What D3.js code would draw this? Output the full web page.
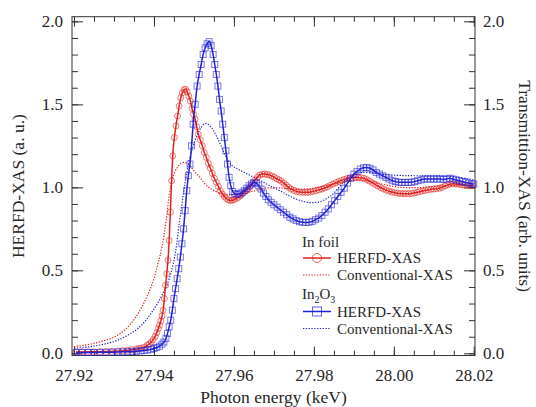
<!DOCTYPE html>
<html><head><meta charset="utf-8">
<script src="https://cdn.jsdelivr.net/npm/d3@7"></script>
<style>
body{margin:0;background:#fff}
svg{display:block}
svg text{font-family:"Liberation Serif","Times New Roman",serif;fill:#262626}
</style>
</head><body>
<svg id="chart" width="536" height="407"></svg>
<script>
// ---------------- DATA (photon energy keV, normalized intensity) ----------------
const foilHerfd = [[27.9205,0.008],[27.9220,0.008],[27.9235,0.009],[27.9250,0.009],[27.9265,0.010],[27.9280,0.011],[27.9295,0.012],[27.9310,0.014],[27.9322,0.016],[27.9334,0.019],[27.9345,0.022],[27.9356,0.026],[27.9362,0.028],[27.9368,0.031],[27.9376,0.038],[27.9383,0.048],[27.9388,0.056],[27.9393,0.068],[27.9398,0.083],[27.9403,0.102],[27.9407,0.124],[27.9411,0.149],[27.9414,0.170],[27.9417,0.195],[27.9420,0.225],[27.9423,0.26],[27.9426,0.33],[27.9429,0.41],[27.9432,0.48],[27.9435,0.56],[27.9438,0.68],[27.9441,0.85],[27.9444,1.04],[27.9447,1.19],[27.9451,1.30],[27.9455,1.37],[27.9459,1.43],[27.9463,1.49],[27.9467,1.54],[27.9471,1.57],[27.9475,1.588],[27.9479,1.592],[27.9483,1.575],[27.9487,1.55],[27.9491,1.52],[27.9495,1.475],[27.9499,1.44],[27.9503,1.41],[27.9507,1.365],[27.9511,1.32],[27.9516,1.285],[27.9521,1.25],[27.9526,1.21],[27.9531,1.18],[27.9536,1.145],[27.9541,1.115],[27.9546,1.085],[27.9551,1.055],[27.9556,1.03],[27.9561,1.005],[27.9566,0.98],[27.9571,0.96],[27.9576,0.945],[27.9581,0.933],[27.9586,0.925],[27.9591,0.92],[27.9596,0.922],[27.9601,0.927],[27.9606,0.933],[27.9611,0.94],[27.9617,0.95],[27.9623,0.963],[27.9629,0.978],[27.9635,0.99],[27.9641,1.005],[27.9647,1.025],[27.9653,1.045],[27.9659,1.062],[27.9665,1.075],[27.9671,1.08],[27.9677,1.08],[27.9683,1.078],[27.9689,1.075],[27.9695,1.068],[27.9701,1.06],[27.9707,1.052],[27.9713,1.045],[27.9719,1.036],[27.9725,1.025],[27.9731,1.012],[27.9737,1.0],[27.9743,0.99],[27.9750,0.982],[27.9757,0.975],[27.9764,0.972],[27.9771,0.97],[27.9778,0.97],[27.9785,0.97],[27.9792,0.972],[27.9799,0.976],[27.9806,0.98],[27.9813,0.985],[27.9820,0.99],[27.9827,0.996],[27.9834,1.003],[27.9841,1.012],[27.9848,1.02],[27.9855,1.028],[27.9862,1.035],[27.9869,1.042],[27.9876,1.048],[27.9883,1.053],[27.9890,1.056],[27.9897,1.058],[27.9904,1.06],[27.9911,1.06],[27.9918,1.058],[27.9925,1.054],[27.9932,1.047],[27.9939,1.038],[27.9946,1.028],[27.9953,1.018],[27.9960,1.008],[27.9967,0.998],[27.9974,0.99],[27.9981,0.983],[27.9988,0.977],[27.9995,0.972],[28.0002,0.968],[28.0009,0.965],[28.0016,0.963],[28.0023,0.962],[28.0030,0.962],[28.0037,0.962],[28.0044,0.963],[28.0051,0.966],[28.0058,0.97],[28.0065,0.974],[28.0072,0.978],[28.0079,0.982],[28.0086,0.985],[28.0093,0.988],[28.0100,0.99],[28.0107,0.992],[28.0114,0.995],[28.0121,1.0],[28.0128,1.008],[28.0135,1.015],[28.0142,1.02],[28.0149,1.022],[28.0156,1.02],[28.0163,1.018],[28.0170,1.015],[28.0177,1.013],[28.0184,1.012],[28.0191,1.01],[28.0198,1.01]];

const foilConv = [[27.9200,0.040],[27.9240,0.055],[27.9280,0.080],[27.9310,0.110],[27.9335,0.160],[27.9355,0.220],[27.9370,0.280],[27.9380,0.330],[27.9390,0.385],[27.9400,0.450],[27.9410,0.540],[27.9420,0.640],[27.9430,0.790],[27.9438,0.950],[27.9445,1.040],[27.9452,1.090],[27.9460,1.125],[27.9468,1.145],[27.9476,1.150],[27.9485,1.140],[27.9495,1.115],[27.9505,1.085],[27.9515,1.060],[27.9528,1.020],[27.9540,0.995],[27.9555,0.975],[27.9570,0.962],[27.9590,0.955],[27.9610,0.957],[27.9630,0.965],[27.9650,0.978],[27.9670,0.990],[27.9690,0.997],[27.9710,0.997],[27.9735,0.992],[27.9760,0.988],[27.9790,0.992],[27.9820,1.005],[27.9850,1.020],[27.9880,1.035],[27.9910,1.042],[27.9940,1.036],[27.9970,1.020],[28.0000,1.005],[28.0030,0.998],[28.0060,0.998],[28.0090,1.003],[28.0120,1.008],[28.0150,1.010],[28.0180,1.010],[28.0200,1.010]];

const oxideHerfd = [[27.9205,0.005],[27.9220,0.005],[27.9235,0.005],[27.9250,0.005],[27.9265,0.006],[27.9280,0.006],[27.9295,0.007],[27.9310,0.008],[27.9322,0.009],[27.9334,0.010],[27.9346,0.011],[27.9356,0.013],[27.9366,0.015],[27.9375,0.017],[27.9384,0.020],[27.9392,0.024],[27.9400,0.029],[27.9407,0.035],[27.9414,0.043],[27.9420,0.055],[27.9425,0.068],[27.9430,0.09],[27.9434,0.12],[27.9438,0.16],[27.9442,0.20],[27.9446,0.26],[27.9450,0.33],[27.9454,0.39],[27.9458,0.45],[27.9462,0.51],[27.9466,0.58],[27.9470,0.66],[27.9474,0.75],[27.9478,0.86],[27.9482,0.98],[27.9486,1.07],[27.9490,1.14],[27.9494,1.25],[27.9498,1.38],[27.9503,1.50],[27.9508,1.61],[27.9513,1.68],[27.9518,1.74],[27.9523,1.80],[27.9528,1.84],[27.9533,1.865],[27.9538,1.878],[27.9543,1.855],[27.9548,1.80],[27.9552,1.74],[27.9556,1.68],[27.9560,1.61],[27.9564,1.53],[27.9568,1.46],[27.9572,1.38],[27.9576,1.30],[27.9580,1.22],[27.9584,1.14],[27.9588,1.06],[27.9592,1.01],[27.9597,0.975],[27.9602,0.962],[27.9608,0.958],[27.9614,0.96],[27.9620,0.97],[27.9626,0.98],[27.9632,0.995],[27.9638,1.01],[27.9644,1.02],[27.9650,1.03],[27.9656,1.025],[27.9662,1.01],[27.9668,0.99],[27.9674,0.965],[27.9680,0.945],[27.9686,0.925],[27.9693,0.91],[27.9700,0.895],[27.9708,0.88],[27.9716,0.865],[27.9724,0.85],[27.9732,0.835],[27.9740,0.82],[27.9748,0.81],[27.9756,0.80],[27.9764,0.793],[27.9772,0.79],[27.9780,0.788],[27.9788,0.79],[27.9796,0.795],[27.9804,0.805],[27.9812,0.815],[27.9820,0.83],[27.9828,0.85],[27.9836,0.87],[27.9844,0.895],[27.9852,0.92],[27.9860,0.945],[27.9868,0.97],[27.9876,0.995],[27.9884,1.025],[27.9892,1.055],[27.9900,1.08],[27.9908,1.095],[27.9916,1.11],[27.9924,1.118],[27.9932,1.12],[27.9940,1.115],[27.9948,1.105],[27.9956,1.09],[27.9964,1.08],[27.9972,1.07],[27.9980,1.06],[27.9988,1.05],[27.9996,1.04],[28.0004,1.035],[28.0012,1.03],[28.0020,1.03],[28.0028,1.03],[28.0036,1.03],[28.0044,1.03],[28.0052,1.035],[28.0060,1.04],[28.0068,1.045],[28.0076,1.05],[28.0084,1.05],[28.0092,1.05],[28.0100,1.05],[28.0108,1.05],[28.0116,1.05],[28.0124,1.048],[28.0132,1.05],[28.0140,1.055],[28.0148,1.05],[28.0156,1.045],[28.0164,1.04],[28.0172,1.035],[28.0180,1.03],[28.0188,1.025],[28.0196,1.02],[28.0200,1.02]];

const oxideConv = [[27.9200,0.030],[27.9240,0.040],[27.9280,0.058],[27.9310,0.080],[27.9335,0.110],[27.9360,0.150],[27.9380,0.200],[27.9395,0.250],[27.9410,0.305],[27.9422,0.360],[27.9434,0.420],[27.9442,0.480],[27.9450,0.560],[27.9457,0.660],[27.9463,0.780],[27.9470,0.900],[27.9478,1.030],[27.9487,1.150],[27.9497,1.240],[27.9508,1.315],[27.9518,1.360],[27.9528,1.385],[27.9538,1.375],[27.9548,1.345],[27.9558,1.300],[27.9568,1.250],[27.9577,1.200],[27.9586,1.160],[27.9596,1.130],[27.9610,1.110],[27.9630,1.085],[27.9650,1.060],[27.9670,1.035],[27.9690,1.010],[27.9710,0.985],[27.9730,0.960],[27.9750,0.935],[27.9770,0.918],[27.9790,0.908],[27.9810,0.910],[27.9830,0.930],[27.9850,0.965],[27.9870,1.020],[27.9890,1.065],[27.9910,1.085],[27.9930,1.090],[27.9950,1.085],[27.9980,1.078],[28.0010,1.072],[28.0050,1.070],[28.0090,1.070],[28.0130,1.068],[28.0160,1.060],[28.0200,1.045]];

const xMajorTicks = [27.92, 27.94, 27.96, 27.98, 28.00, 28.02];
const xMinorTicks = d3.range(0, 21).map(i => +(27.92 + i * 0.005).toFixed(3));
const yMajorTicks = [0.0, 0.5, 1.0, 1.5, 2.0];
const yMinorTicks = d3.range(0, 21).map(i => +(i * 0.1).toFixed(1));

const xTitle = "Photon energy (keV)";
const yLeftTitle = "HERFD-XAS (a. u.)";
const yRightTitle = "Transmittion-XAS (arb. units)";

// ---------------- LAYOUT ----------------
const L = 72, R = 475, T = 16.7, B = 355.5;
const RED = "#e2211c", BLUE = "#2121d6", AX = "#333";
const FONT = '"Liberation Serif","Times New Roman",serif';
const svg = d3.select("#chart");

const x = d3.scaleLinear().domain([27.9195, 28.0203]).range([L, R]);
const y = d3.scaleLinear().domain([-0.013, 2.028]).range([B, T]);

function styleAxis(g) {
  g.select(".domain").remove();
  g.selectAll("line").attr("stroke", AX).attr("stroke-width", 1);
  g.attr("font-family", FONT).attr("font-size", 17);
  g.selectAll("text").attr("font-family", FONT).attr("font-size", 17).attr("fill", "#262626");
}

// minor ticks
svg.append("g").attr("transform", `translate(0,${B})`)
  .call(d3.axisBottom(x).tickValues(xMinorTicks).tickSize(-5).tickFormat("")).call(styleAxis);
svg.append("g").attr("transform", `translate(0,${T})`)
  .call(d3.axisTop(x).tickValues(xMinorTicks).tickSize(-5).tickFormat("")).call(styleAxis);
svg.append("g").attr("transform", `translate(${L},0)`)
  .call(d3.axisLeft(y).tickValues(yMinorTicks).tickSize(-6).tickFormat("")).call(styleAxis);
svg.append("g").attr("transform", `translate(${R},0)`)
  .call(d3.axisRight(y).tickValues(yMinorTicks).tickSize(-6).tickFormat("")).call(styleAxis);

// major ticks with labels
svg.append("g").attr("transform", `translate(0,${B})`)
  .call(d3.axisBottom(x).tickValues(xMajorTicks).tickSize(-9).tickPadding(13).tickFormat(d3.format(".2f"))).call(styleAxis);
svg.append("g").attr("transform", `translate(0,${T})`)
  .call(d3.axisTop(x).tickValues(xMajorTicks).tickSize(-10).tickFormat("")).call(styleAxis);
svg.append("g").attr("transform", `translate(${L},0)`)
  .call(d3.axisLeft(y).tickValues(yMajorTicks).tickSize(-11).tickPadding(9).tickFormat(d3.format(".1f"))).call(styleAxis);
svg.append("g").attr("transform", `translate(${R},0)`)
  .call(d3.axisRight(y).tickValues(yMajorTicks).tickSize(-11).tickPadding(8).tickFormat(d3.format(".1f"))).call(styleAxis);

// frame
svg.append("rect").attr("x", L).attr("y", T).attr("width", R - L).attr("height", B - T)
  .attr("fill", "none").attr("stroke", AX).attr("stroke-width", 1);

// titles
svg.append("text").attr("x", (L + R) / 2).attr("y", 403).attr("text-anchor", "middle")
  .attr("font-family", FONT).attr("font-size", 17.5).text(xTitle);
svg.append("text").attr("transform", `translate(24,${(T + B) / 2}) rotate(-90)`).attr("text-anchor", "middle")
  .attr("font-family", FONT).attr("font-size", 17.5).text(yLeftTitle);
svg.append("text").attr("transform", `translate(519,${(T + B) / 2}) rotate(90)`).attr("text-anchor", "middle")
  .attr("font-family", FONT).attr("font-size", 17.5).text(yRightTitle);

// ---------------- SERIES ----------------
const line = d3.line().x(d => x(d[0])).y(d => y(d[1])).curve(d3.curveMonotoneX);
const plot = svg.append("g");

plot.append("path").datum(foilConv).attr("d", line).attr("fill", "none")
  .attr("stroke", RED).attr("stroke-width", 1.2).attr("stroke-dasharray", "1.3,1.5");
plot.append("path").datum(oxideConv).attr("d", line).attr("fill", "none")
  .attr("stroke", BLUE).attr("stroke-width", 1.2).attr("stroke-dasharray", "1.3,1.5");

plot.append("path").datum(foilHerfd).attr("d", line).attr("fill", "none")
  .attr("stroke", RED).attr("stroke-width", 1.5);
plot.append("g").selectAll("circle").data(foilHerfd).join("circle")
  .attr("cx", d => x(d[0])).attr("cy", d => y(d[1])).attr("r", 3)
  .attr("fill", "none").attr("stroke", RED).attr("stroke-opacity", 0.6).attr("stroke-width", 1);

plot.append("path").datum(oxideHerfd).attr("d", line).attr("fill", "none")
  .attr("stroke", BLUE).attr("stroke-width", 1.5);
plot.append("g").selectAll("rect").data(oxideHerfd).join("rect")
  .attr("x", d => x(d[0]) - 3).attr("y", d => y(d[1]) - 3).attr("width", 6).attr("height", 6)
  .attr("fill", "none").attr("stroke", BLUE).attr("stroke-opacity", 0.6).attr("stroke-width", 1);

// ---------------- LEGEND ----------------
const lg = svg.append("g").attr("font-family", FONT);
const lx0 = 303, lx1 = 331, tx = 337;
lg.append("text").attr("x", 302).attr("y", 247).attr("font-size", 15).text("In foil");
lg.append("line").attr("x1", lx0).attr("x2", lx1).attr("y1", 258).attr("y2", 258).attr("stroke", RED).attr("stroke-width", 1.5);
lg.append("circle").attr("cx", 317).attr("cy", 258).attr("r", 4.5).attr("fill", "none").attr("stroke", RED).attr("stroke-opacity", 0.7);
lg.append("text").attr("x", tx).attr("y", 263).attr("font-size", 15).text("HERFD-XAS");
lg.append("line").attr("x1", lx0).attr("x2", lx1).attr("y1", 275).attr("y2", 275).attr("stroke", RED).attr("stroke-width", 1.2).attr("stroke-dasharray", "1.3,1.5");
lg.append("text").attr("x", tx).attr("y", 280).attr("font-size", 15).text("Conventional-XAS");

const ox = lg.append("text").attr("x", 302).attr("y", 299).attr("font-size", 15);
ox.append("tspan").text("In");
ox.append("tspan").attr("dy", 4).attr("font-size", 10).text("2");
ox.append("tspan").attr("dy", -4).text("O");
ox.append("tspan").attr("dy", 4).attr("font-size", 10).text("3");

lg.append("line").attr("x1", lx0).attr("x2", lx1).attr("y1", 311.5).attr("y2", 311.5).attr("stroke", BLUE).attr("stroke-width", 1.5);
lg.append("rect").attr("x", 312.5).attr("y", 307).attr("width", 9).attr("height", 9).attr("fill", "none").attr("stroke", BLUE).attr("stroke-opacity", 0.7);
lg.append("text").attr("x", tx).attr("y", 317).attr("font-size", 15).text("HERFD-XAS");
lg.append("line").attr("x1", lx0).attr("x2", lx1).attr("y1", 328.5).attr("y2", 328.5).attr("stroke", BLUE).attr("stroke-width", 1.2).attr("stroke-dasharray", "1.3,1.5");
lg.append("text").attr("x", tx).attr("y", 334).attr("font-size", 15).text("Conventional-XAS");
</script>
</body></html>
